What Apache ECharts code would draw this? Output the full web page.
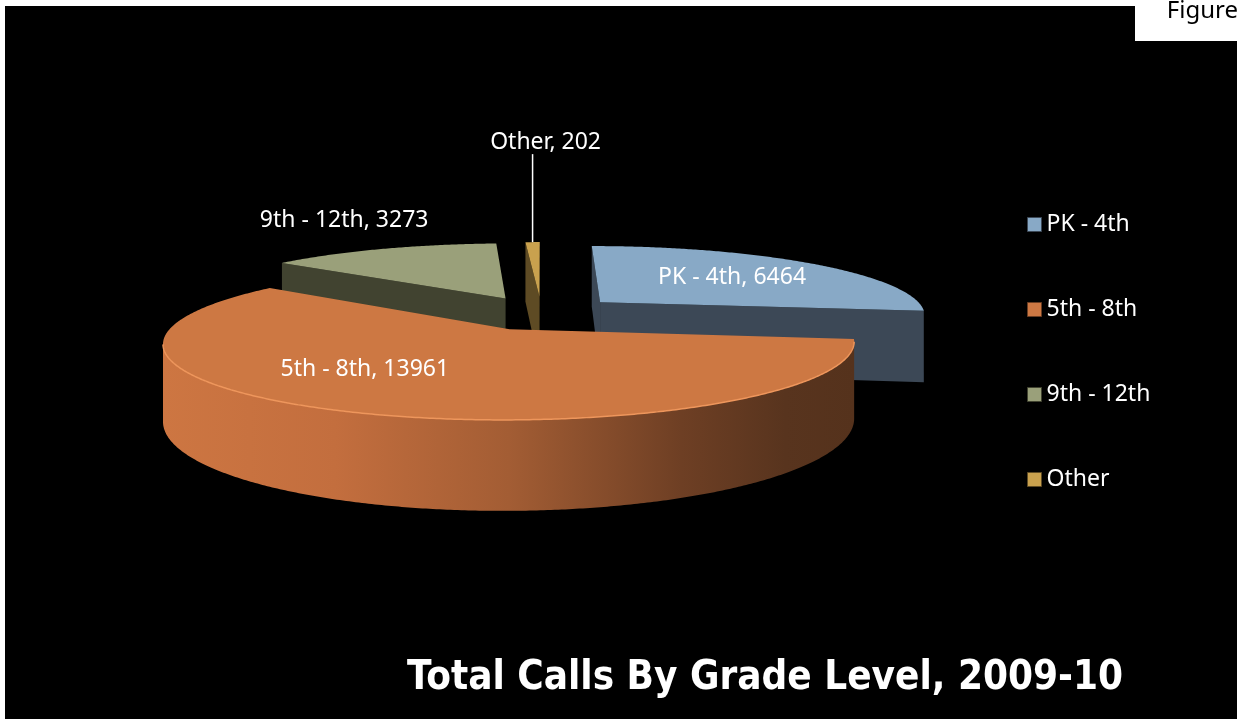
<!DOCTYPE html>
<html><head><meta charset="utf-8">
<script src="https://cdn.jsdelivr.net/npm/echarts@6/dist/echarts.min.js"></script>
<style>html,body{margin:0;padding:0;background:#fff}#c{width:1241px;height:723px}</style>
</head><body><div id="c"></div>
<script>
// ---- data ----
const categories = ['PK - 4th', '5th - 8th', '9th - 12th', 'Other'];
const calls = [6464, 13961, 3273, 202];
const chartTitle = 'Total Calls By Grade Level, 2009-10';
const cornerTag = 'Figure';

// ---- layout / style ----
const G = {cx: 541.5, cy: 313, R: 327, ky: 69, H: 72, a: 0.17, explode: 0.245};
const topColors = ['#88A9C6', '#CD7843', '#9AA07A', '#C9A14E'];
const wallColors = ['#3C4856', '#6A3D22', '#414330', '#5E4B24'];
const outerStops = [
  [[0,'#56697C'],[1,'#3C4856']],
  [[0,'#CD7642'],[0.25,'#C36E3E'],[0.5,'#A35D34'],[0.75,'#6E3F24'],[0.9,'#58341E'],[1,'#55321C']],
  [[0,'#5A5E44'],[1,'#414330']],
  [[0,'#8A7035'],[1,'#5E4B24']]
];
const edgeColors = ['#A9C4DA', '#EE965C', '#B6BB96', '#E0BE6E'];
const labelLayout = [
  {r: 0.6, dx: 1, dy: 0},
  {r: 0.45, dx: -79, dy: 7},
  {r: 1, dx: -38, dy: -28},
  {r: 1, dx: 13, dy: -100, leader: true}
];
const FONT = '"Noto Sans", sans-serif';

// ---- geometry from data ----
const total = calls.reduce((s, v) => s + v, 0);
let acc = 0;
const slices = calls.map(v => {
  const a0 = 90 - acc / total * 360; acc += v;
  const a1 = 90 - acc / total * 360;
  const mid = (a0 + a1) / 2;
  const m = mid * Math.PI / 180;
  return {a0, a1, mid, ox: G.explode * Math.cos(m), oz: G.explode * Math.sin(m)};
});
const rad = d => d * Math.PI / 180;
function proj(X, Z, down) {
  const p = 1 / (1 + G.a * Z);
  return [G.cx + G.R * X * p, G.cy - G.ky * Z * p + (down ? G.H * p : 0)];
}
function pt(s, deg, r, down) {
  const t = rad(deg);
  return proj(r * Math.cos(t) + s.ox, r * Math.sin(t) + s.oz, down);
}
function facing(n, P) {
  const v = [-P[0], -1 / G.a - P[1]];
  return n[0] * v[0] + n[1] * v[1] > 0;
}
function arcAngles(s, step) {
  const n = Math.max(2, Math.ceil((s.a0 - s.a1) / step));
  const out = [];
  for (let k = 0; k <= n; k++) out.push(s.a0 + (s.a1 - s.a0) * k / n);
  return out;
}
function visibleArc(s) {
  return arcAngles(s, 0.5).filter(d => {
    const t = rad(d);
    return facing([Math.cos(t), Math.sin(t)], [Math.cos(t) + s.ox, Math.sin(t) + s.oz]);
  });
}
// paint order of walls: back first
const order = slices.map((s, i) => i).sort((i, j) => Math.sin(rad(slices[j].mid)) - Math.sin(rad(slices[i].mid)));
const wallRank = [];
order.forEach((idx, r) => { wallRank[idx] = r; });

function wallItem(i) {
  return function () {
    const s = slices[i];
    const children = [];
    [[s.a0, 1], [s.a1, -1]].forEach(([ang, sign]) => {
      const t = rad(ang);
      const n = sign > 0 ? [-Math.sin(t), Math.cos(t)] : [Math.sin(t), -Math.cos(t)];
      const P = [0.5 * Math.cos(t) + s.ox, 0.5 * Math.sin(t) + s.oz];
      if (facing(n, P)) {
        children.push({type: 'polygon', shape: {points: [pt(s, ang, 0, false), pt(s, ang, 1, false), pt(s, ang, 1, true), pt(s, ang, 0, true)]},
          style: {fill: wallColors[i]}});
      }
    });
    const vis = visibleArc(s);
    if (vis.length > 1) {
      const top = vis.map(a => pt(s, a, 1, false));
      const bot = vis.map(a => pt(s, a, 1, true)).reverse();
      const pts = top.concat(bot);
      const xs = pts.map(p => p[0]);
      const x0 = Math.min(...xs), x1 = Math.max(...xs);
      children.push({type: 'polygon', shape: {points: pts},
        style: {fill: new echarts.graphic.LinearGradient(x0, 0, x1, 0, outerStops[i].map(([o, c]) => ({offset: o, color: c})), true)}});
    }
    return {type: 'group', children};
  };
}
function topItem(i) {
  return function () {
    const s = slices[i];
    const children = [];
    const pts = [pt(s, s.mid, 0, false)].concat(arcAngles(s, 0.5).map(a => pt(s, a, 1, false)));
    children.push({type: 'polygon', shape: {points: pts}, style: {fill: topColors[i]}});
    const vis = visibleArc(s);
    if (vis.length > 1) {
      children.push({type: 'polyline', shape: {points: vis.map(a => pt(s, a, 1, false))},
        style: {stroke: edgeColors[i], lineWidth: 1.5, fill: null}});
    }
    const L = labelLayout[i];
    const anc = pt(s, s.mid, L.r, false);
    const x = anc[0] + L.dx, y = anc[1] + L.dy;
    if (L.leader) {
      children.push({type: 'line', shape: {x1: anc[0], y1: anc[1], x2: anc[0], y2: y + 12}, style: {stroke: '#fff', lineWidth: 1.5}});
    }
    children.push({type: 'text', x, y, style: {text: categories[i] + ', ' + calls[i], fill: '#fff',
      font: '23px ' + FONT, align: 'center', verticalAlign: 'middle'}});
    return {type: 'group', children};
  };
}

const chart = echarts.init(document.getElementById('c'), null, {renderer: 'canvas'});
chart.setOption({
  backgroundColor: '#fff',
  animation: false,
  title: {text: chartTitle, left: 402, top: 654,
    textStyle: {color: '#fff', fontSize: 40, fontWeight: 'bold', fontFamily: '"DejaVu Sans Condensed", "DejaVu Sans", sans-serif'}},
  legend: {orient: 'vertical', left: 1022, top: 207, itemWidth: 14, itemHeight: 14, itemGap: 60, icon: 'rect',
    textStyle: {color: '#fff', fontSize: 23, fontFamily: FONT, lineHeight: 25},
    data: categories.map((n, i) => ({name: n, itemStyle: {color: topColors[i], borderColor: wallColors[i], borderWidth: 1}}))},
  graphic: [
    {type: 'rect', shape: {x: 5, y: 6, width: 1232, height: 713}, style: {fill: '#000'}, z: -10, silent: true},
    {type: 'rect', shape: {x: 1135, y: 0, width: 106, height: 41}, style: {fill: '#fff'}, z: 100, silent: true},
    {type: 'text', x: 1238, y: 11, style: {text: cornerTag, fill: '#000', font: '24px ' + FONT, align: 'right', verticalAlign: 'middle'}, z: 101}
  ],
  series: categories.flatMap((name, i) => [
    {type: 'custom', name, coordinateSystem: 'none', renderItem: wallItem(i), data: [[calls[i]]], z: 2 + wallRank[i], itemStyle: {color: topColors[i]}, silent: true},
    {type: 'custom', name, coordinateSystem: 'none', renderItem: topItem(i), data: [[calls[i]]], z: 10, itemStyle: {color: topColors[i]}}
  ])
});
</script></body></html>
